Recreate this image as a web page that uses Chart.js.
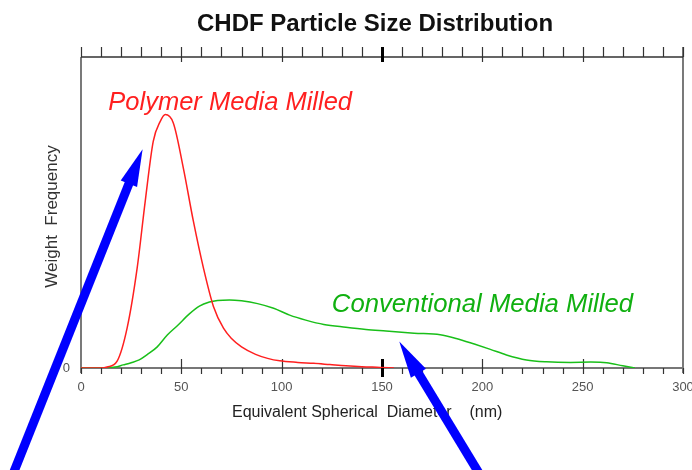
<!DOCTYPE html>
<html>
<head>
<meta charset="utf-8">
<script src="https://cdn.jsdelivr.net/npm/chart.js@4.4.1/dist/chart.umd.min.js"></script>
<style>
  html, body { margin: 0; padding: 0; background: #fff; }
  #wrap { width: 692px; height: 470px; }
</style>
</head>
<body>
<div id="wrap"><canvas id="c" width="692" height="470"></canvas></div>
<script>
// ---- Data ----
const chartTitle = 'CHDF Particle Size Distribution';
const xAxisTitle = 'Equivalent Spherical  Diameter    (nm)';
const yAxisTitle = 'Weight  Frequency';
const xTickLabels = [0, 50, 100, 150, 200, 250, 300];
const seriesNames = ['Polymer Media Milled', 'Conventional Media Milled'];

// Polymer Media Milled (red): diameter (nm) and weight frequency (arbitrary units)
const polymerX = [0, 10, 13, 18, 23, 28, 32, 36, 39.5, 42, 46, 51, 56, 61, 66, 71, 75, 80, 87, 93, 99, 108, 116, 124, 132, 140, 149, 156];
const polymerY = [0, 0, 0.3, 2.2, 12.9, 32.2, 53.6, 72.9, 79.3, 81.5, 78.8, 64.3, 47.2, 32.2, 19.8, 12.8, 9.5, 6.8, 4.4, 3.1, 2.3, 1.8, 1.5, 1.1, 0.7, 0.4, 0.2, 0];

// Conventional Media Milled (green)
const conventionalX = [0, 12, 17, 21, 25, 29, 33, 38, 43, 48, 54, 59, 64, 68, 74, 80, 88, 96, 104, 112, 121, 132, 142, 152, 166, 179, 187, 196, 204, 212, 222, 232, 244, 254, 262, 270, 276];
const conventionalY = [0, 0, 0.3, 1.0, 1.7, 2.6, 4.3, 6.8, 10.6, 13.6, 17.4, 19.9, 21.2, 21.7, 21.9, 21.6, 20.7, 19.2, 17.0, 15.4, 14.0, 13.1, 12.4, 11.9, 11.2, 10.7, 9.5, 7.7, 6.0, 4.2, 2.6, 2.0, 1.8, 1.9, 1.7, 0.7, 0.0];

// Annotation anchors in data coordinates (nm, frequency)
const labelAnchors = [[13.6, 83.0], [125, 18.0]];
const arrowTails = [[-33.5, -33.5], [198.5, -34]];
const arrowTips  = [[30.7, 70.3], [158.6, 8.5]];

const toXY = (xs, ys) => xs.map((x, i) => ({ x, y: ys[i] }));

const RED = '#ff1f1f';
const GREEN = '#19bf19';

const decor = {
  id: 'decor',
  beforeDatasetsDraw(chart) {
    const { ctx, chartArea: a, scales: { x } } = chart;
    ctx.save();
    ctx.lineCap = 'butt';
    ctx.strokeStyle = '#333';
    ctx.lineWidth = 1.3;
    ctx.beginPath();
    ctx.moveTo(a.left, a.top); ctx.lineTo(a.right, a.top);
    ctx.moveTo(a.left, a.top); ctx.lineTo(a.left, a.bottom + 5);
    ctx.moveTo(a.right, a.top - 10); ctx.lineTo(a.right, a.bottom + 5);
    ctx.stroke();
    ctx.strokeStyle = '#777';
    ctx.lineWidth = 2;
    ctx.beginPath();
    ctx.moveTo(a.left, a.bottom); ctx.lineTo(a.right, a.bottom);
    ctx.stroke();
    for (let v = 0; v <= 300; v += 10) {
      const px = Math.round(x.getPixelForValue(v)) + 0.5;
      const major = v % 50 === 0 && v !== 0 && v !== 300;
      const bold = v === 150;
      ctx.strokeStyle = bold ? '#000' : '#333';
      ctx.lineWidth = bold ? 3 : 1.2;
      ctx.beginPath();
      ctx.moveTo(px, a.top - 10);
      ctx.lineTo(px, major ? a.top + 5 : a.top);
      ctx.moveTo(px, major ? a.bottom - 9 : a.bottom);
      ctx.lineTo(px, a.bottom + (bold ? 9 : 6));
      ctx.stroke();
    }
    ctx.restore();
  },
  afterDraw(chart) {
    const { ctx, scales: { x, y } } = chart;
    ctx.save();
    ctx.fillStyle = '#111';
    ctx.font = 'bold 24px "Liberation Sans", Arial, sans-serif';
    ctx.textAlign = 'left';
    ctx.textBaseline = 'alphabetic';
    ctx.fillText(chartTitle, 197, 30.5);
    ctx.fillStyle = '#222';
    ctx.font = '16px "Liberation Sans", Arial, sans-serif';
    ctx.fillText(xAxisTitle, 232, 416.5);
    ctx.save();
    ctx.translate(56.5, 216.5);
    ctx.rotate(-Math.PI / 2);
    ctx.textAlign = 'center';
    ctx.font = '17px "Liberation Sans", Arial, sans-serif';
    ctx.fillStyle = '#333';
    ctx.fillText(yAxisTitle, 0, 0);
    ctx.restore();
    ctx.textAlign = 'left';
    const colors = [RED, '#10b010'];
    const sizes = [25.5, 25.7];
    seriesNames.forEach((name, i) => {
      ctx.font = 'italic ' + sizes[i] + 'px "Liberation Sans", Arial, sans-serif';
      ctx.fillStyle = colors[i];
      ctx.fillText(name, x.getPixelForValue(labelAnchors[i][0]), y.getPixelForValue(labelAnchors[i][1]));
    });
    ctx.fillStyle = '#0000ff';
    ctx.strokeStyle = '#0000ff';
    for (let i = 0; i < arrowTips.length; i++) {
      const tx = x.getPixelForValue(arrowTails[i][0]), ty = y.getPixelForValue(arrowTails[i][1]);
      const hx = x.getPixelForValue(arrowTips[i][0]), hy = y.getPixelForValue(arrowTips[i][1]);
      const dx = hx - tx, dy = hy - ty, len = Math.hypot(dx, dy);
      const ux = dx / len, uy = dy / len, nx = -uy, ny = ux;
      const headLen = 37, headHalf = 8.8;
      const bx = hx - ux * headLen, by = hy - uy * headLen;
      ctx.lineWidth = 9;
      ctx.lineCap = 'butt';
      ctx.beginPath();
      ctx.moveTo(tx, ty);
      ctx.lineTo(bx + ux * 2, by + uy * 2);
      ctx.stroke();
      ctx.beginPath();
      ctx.moveTo(hx, hy);
      ctx.lineTo(bx + nx * headHalf, by + ny * headHalf);
      ctx.lineTo(bx - nx * headHalf, by - ny * headHalf);
      ctx.closePath();
      ctx.fill();
    }
    ctx.restore();
  }
};

new Chart(document.getElementById('c'), {
  type: 'line',
  data: {
    datasets: [
      {
        label: seriesNames[0],
        data: toXY(polymerX, polymerY),
        borderColor: RED,
        borderWidth: 1.5,
        pointRadius: 0,
        cubicInterpolationMode: 'monotone',
        fill: false
      },
      {
        label: seriesNames[1],
        data: toXY(conventionalX, conventionalY),
        borderColor: GREEN,
        borderWidth: 1.5,
        pointRadius: 0,
        cubicInterpolationMode: 'monotone',
        fill: false
      }
    ]
  },
  options: {
    responsive: false,
    animation: false,
    events: [],
    layout: { autoPadding: false, padding: { left: 0, right: 9, top: 57, bottom: 0 } },
    plugins: { legend: { display: false }, title: { display: false }, tooltip: { enabled: false } },
    scales: {
      x: {
        type: 'linear',
        position: 'bottom',
        min: 0, max: 300,
        afterFit: s => { s.height = 102; s.paddingLeft = 0; s.paddingRight = 0; },
        afterBuildTicks: s => { s.ticks = xTickLabels.map(v => ({ value: v })); },
        grid: { display: false, drawTicks: false },
        border: { display: false },
        ticks: {
          padding: 12,
          maxRotation: 0,
          autoSkip: false,
          color: '#555',
          font: { family: '"Liberation Sans", Arial, sans-serif', size: 13 },
          callback: v => String(v)
        }
      },
      y: {
        type: 'linear',
        min: 0, max: 100,
        afterFit: s => { s.width = 81; s.paddingTop = 0; s.paddingBottom = 0; },
        afterBuildTicks: s => { s.ticks = [{ value: 0 }]; },
        grid: { display: false, drawTicks: false },
        border: { display: false },
        ticks: {
          padding: 11,
          color: '#555',
          font: { family: '"Liberation Sans", Arial, sans-serif', size: 13 },
          callback: v => String(v)
        }
      }
    }
  },
  plugins: [decor]
});
</script>
</body>
</html>
